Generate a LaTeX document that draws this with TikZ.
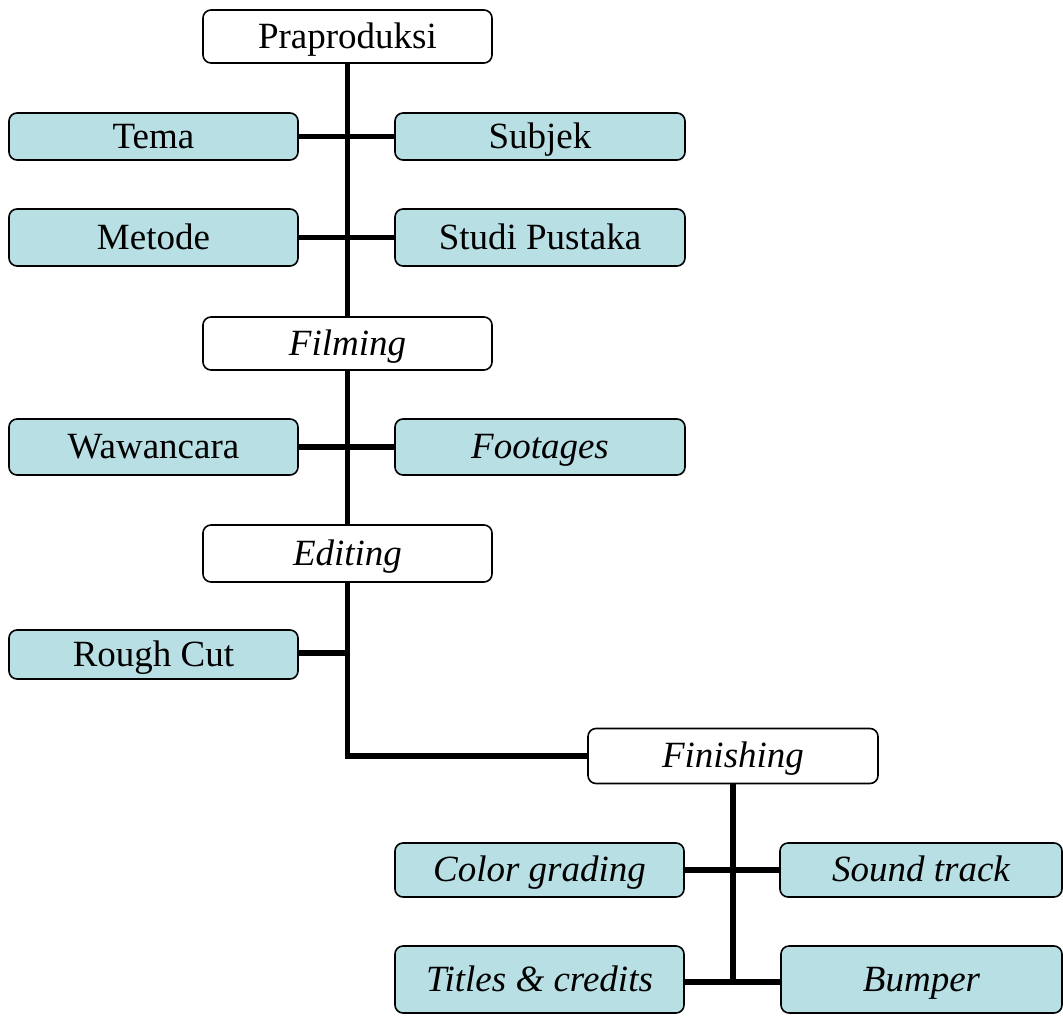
\documentclass[tikz,border=0pt]{standalone}
\usepackage{fontspec}
\setmainfont{Liberation Serif}
\definecolor{boxblue}{RGB}{184,223,227}
\begin{document}
\begin{tikzpicture}[x=1pt,y=-1pt,
  base/.style={draw=black, line width=1.6pt, rounded corners=8pt, inner sep=0pt,
    font=\fontsize{37}{40}\selectfont, text depth=5pt, text height=28pt},
  whitebox/.style={base, fill=white},
  bluebox/.style={base, fill=boxblue},
  link/.style={line width=5.5pt}]
\useasboundingbox (0,0) rectangle (1063,1015);
% main branch
\node[whitebox, minimum width=289pt, minimum height=53pt] (pra) at (347.5,36.5) {Praproduksi};
\node[bluebox, minimum width=289pt, minimum height=47pt] (tema) at (153.5,136.5) {Tema};
\node[bluebox, minimum width=290pt, minimum height=47pt] (subjek) at (540,136.5) {Subjek};
\node[bluebox, minimum width=289pt, minimum height=57pt] (metode) at (153.5,237.5) {Metode};
\node[bluebox, minimum width=290pt, minimum height=57pt] (studi) at (540,237.5) {Studi Pustaka};
\node[whitebox, minimum width=289pt, minimum height=53pt] (film) at (347.5,343.5) {\itshape Filming};
\node[bluebox, minimum width=289pt, minimum height=56pt] (waw) at (153.5,447) {Wawancara};
\node[bluebox, minimum width=290pt, minimum height=56pt] (foot) at (540,447) {\itshape Footages};
\node[whitebox, minimum width=289pt, minimum height=57pt] (edit) at (347.5,553.5) {\itshape Editing};
\node[bluebox, minimum width=289pt, minimum height=49pt] (rough) at (153.5,654.5) {Rough Cut};
\node[whitebox, minimum width=290pt, minimum height=55pt] (fin) at (733,756) {\itshape Finishing};
\node[bluebox, minimum width=289pt, minimum height=54pt] (color) at (539.5,870) {\itshape Color grading};
\node[bluebox, minimum width=282pt, minimum height=54pt] (sound) at (921,870) {\itshape Sound track};
\node[bluebox, minimum width=289pt, minimum height=67pt] (titles) at (539.5,979.5) {\itshape Titles \& credits};
\node[bluebox, minimum width=281pt, minimum height=67pt] (bumper) at (921.5,979.5) {\itshape Bumper};
% junctions
\coordinate (jr) at (347.5,653);
\coordinate (jc) at (347.5,756);
\coordinate (jt) at (733,982);
% connectors
\draw[link] (pra.south) -- (film.north);
\draw[link] (film.south) -- (edit.north);
\draw[link] (edit.south) -- (jc) -- (fin.west);
\draw[link] (tema) -- (subjek);
\draw[link] (metode) -- (studi);
\draw[link] (waw) -- (foot);
\draw[link] (rough.east |- jr) -- (jr);
\draw[link] (fin.south) -- (jt);
\draw[link] (color) -- (sound);
\draw[link] (titles.east |- jt) -- (bumper.west |- jt);
\end{tikzpicture}
\end{document}
